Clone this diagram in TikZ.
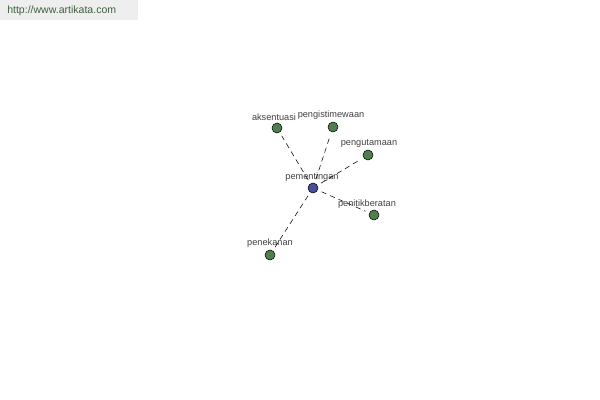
\documentclass[tikz,border=0pt]{standalone}
\usepackage{fontspec}
\setmainfont{Liberation Sans}
\definecolor{leafgreen}{HTML}{4F7F4F}
\definecolor{hubblue}{HTML}{4B4F9A}
\definecolor{urlgray}{HTML}{EEEEEE}
\definecolor{urltext}{HTML}{3F5F3F}
\tikzset{leaf/.style={circle,draw=black,fill=leafgreen,line width=.4pt,inner sep=0,minimum size=7.5pt},
hub/.style={leaf,fill=hubblue},
lbl/.style={font=\fontsize{6.9}{8}\selectfont,text=black!75,inner sep=0},
link/.style={dashed,dash pattern=on 4pt off 3pt,line width=.4pt,shorten >=3pt,shorten <=3pt}}
\begin{document}
\begin{tikzpicture}[x=.75pt,y=-.75pt]
\useasboundingbox(0,0)rectangle(600,400);
\fill[urlgray](0,0)rectangle(138,20);\node[lbl,text=urltext,font=\fontsize{7.9}{9}\selectfont,anchor=west](url)at(7,11){http://www.artikata.com};
\node[hub](c)at(313,188){};\node[lbl](lc)at(312,177){pementingan};
\node[leaf](n1)at(277,128){};\node[lbl](l1)at(274,117){aksentuasi};
\node[leaf](n2)at(333,127){};\node[lbl](l2)at(331,115){pengistimewaan};
\node[leaf](n3)at(368,155){};\node[lbl](l3)at(369,143){pengutamaan};
\node[leaf](n4)at(374,215){};\node[lbl](l4)at(367,204){penitikberatan};
\node[leaf](n5)at(270,255){};\node[lbl](l5)at(270,243){penekanan};
\foreach \n in {n1,n2,n3,n4,n5}{\draw[link](c)--(\n);}
\end{tikzpicture}
\end{document}
